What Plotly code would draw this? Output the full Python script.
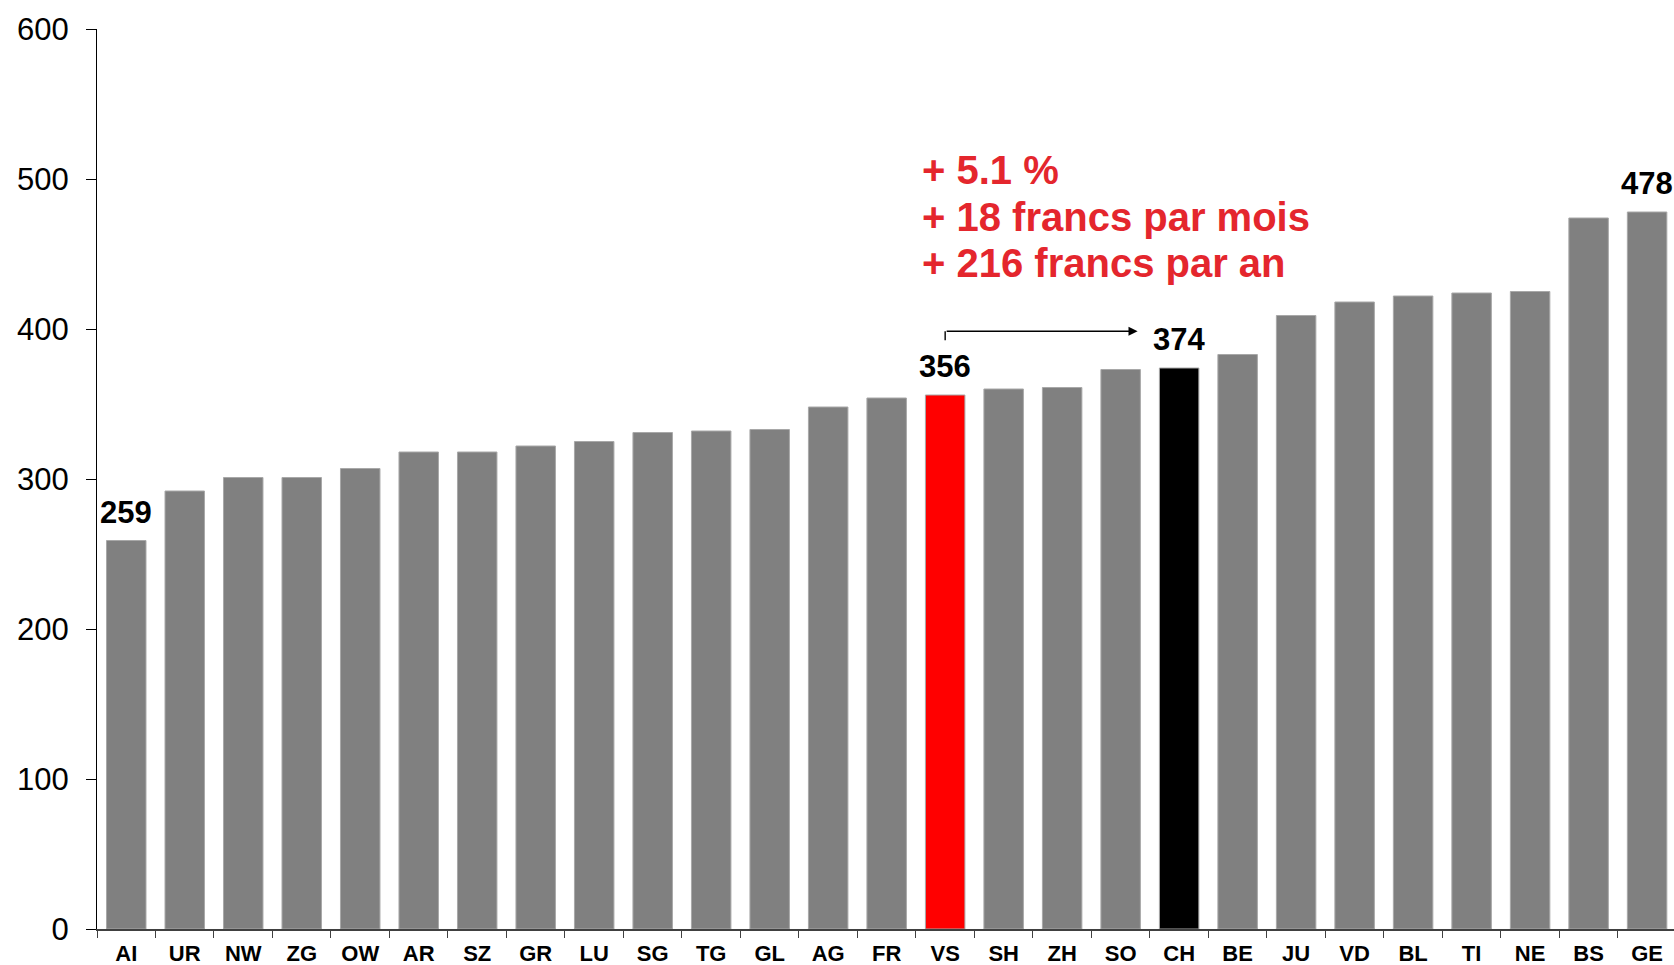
import plotly.graph_objects as go

cantons = ["AI", "UR", "NW", "ZG", "OW", "AR", "SZ", "GR", "LU", "SG", "TG", "GL", "AG", "FR",
           "VS", "SH", "ZH", "SO", "CH", "BE", "JU", "VD", "BL", "TI", "NE", "BS", "GE"]
primes = [259, 292, 301, 301, 307, 318, 318, 322, 325, 331, 332, 333, 348, 354,
          356, 360, 361, 373, 374, 383, 409, 418, 422, 424, 425, 474, 478]
labelled = ["AI", "VS", "CH", "GE"]
highlight_colors = {"VS": "#ff0000", "CH": "#000000"}
base_color = "#808080"
y_ticks = [0, 100, 200, 300, 400, 500, 600]
note_lines = ["+ 5.1 %", "+ 18 francs par mois", "+ 216 francs par an"]

FONT = "Liberation Sans, Arial, sans-serif"

colors = [highlight_colors.get(c, base_color) for c in cantons]

fig = go.Figure()
fig.add_trace(go.Bar(
    x=cantons, y=primes,
    marker=dict(color=colors, line=dict(color="#a8a8a8", width=1)),
    hoverinfo="x+y",
))

annotations = []
for c in labelled:
    v = primes[cantons.index(c)]
    annotations.append(dict(
        x=c, y=v, xref="x", yref="y", text=f"<b>{v}</b>", showarrow=False,
        yanchor="bottom", yshift=9, font=dict(family=FONT, size=31, color="#000000"),
    ))

# red note
vs_idx = cantons.index("VS")
ch_idx = cantons.index("CH")
note_y_px = [170, 217, 263]
for line, ypx in zip(note_lines, note_y_px):
    annotations.append(dict(
        x=(vs_idx - 0.43), y=1 - (ypx - 29) / 900, xref="x", yref="paper",
        text=f"<b>{line}</b>", showarrow=False, xanchor="left", yanchor="middle",
        font=dict(family=FONT, size=40, color="#e4262d"),
    ))

# arrow VS -> CH
vs_val = primes[vs_idx]
arrow_y = vs_val + 42.5
annotations.append(dict(
    x=ch_idx - 0.71, y=arrow_y, ax=vs_idx, ay=arrow_y, xref="x", yref="y",
    axref="x", ayref="y", text="", showarrow=True, arrowhead=2, arrowsize=1.3,
    arrowwidth=1.4, arrowcolor="#000000", standoff=0, startstandoff=0,
))

shapes = [dict(
    type="line", xref="x", yref="y", x0=vs_idx, x1=vs_idx, y0=vs_val + 36.5, y1=arrow_y,
    line=dict(color="#000000", width=1.4),
)]

fig.update_layout(
    width=1674, height=965,
    margin=dict(l=97, r=0, t=29, b=36, autoexpand=False),
    paper_bgcolor="white", plot_bgcolor="white",
    bargap=0.325, showlegend=False,
    annotations=annotations, shapes=shapes,
    font=dict(family=FONT, color="#000000"),
)
fig.update_xaxes(
    type="category", range=[-0.5, len(cantons) - 0.54],
    tickson="boundaries", ticks="outside", ticklen=7, tickcolor="#404040", tickwidth=1,
    showline=True, linecolor="#404040", linewidth=1.5, showgrid=False, zeroline=False,
    tickfont=dict(family=FONT, size=22, color="#000000"),
    tickprefix="<b>", ticksuffix="</b>", ticklabelstandoff=4, automargin=False,
)
fig.update_yaxes(
    range=[0, 600], tickvals=y_ticks, ticks="outside", ticklen=10, tickcolor="#000000",
    showline=True, linecolor="#000000", linewidth=1, showgrid=False, zeroline=False,
    tickfont=dict(family=FONT, size=31, color="#000000"), ticklabelstandoff=11,
    automargin=False,
)

fig.write_html(
    "out.html",
    config={"displayModeBar": False},
    post_script="document.body.style.margin='0';document.body.style.overflow='hidden';",
)
